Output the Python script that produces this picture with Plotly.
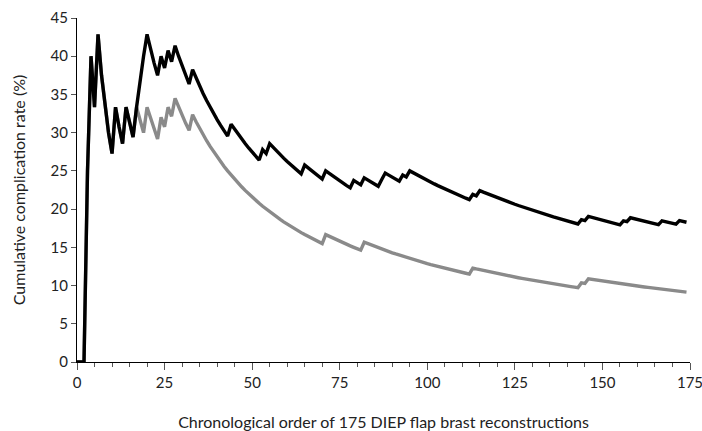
import plotly.graph_objects as go

# Case numbers (1-based, chronological) at which a complication occurred
total_complication_cases = [4, 5, 7, 12, 15, 18, 19, 20, 21, 25, 27, 29, 34, 45, 54, 56, 66, 72,
                            80, 83, 88, 89, 94, 96, 114, 116, 145, 147, 157, 159, 168, 173]
major_complication_cases = [4, 5, 7, 12, 15, 18, 21, 25, 27, 29, 34, 72, 83, 114, 145, 147]
n_cases = 175

x_tick_values = [0, 25, 50, 75, 100, 125, 150, 175]
y_tick_values = [0, 5, 10, 15, 20, 25, 30, 35, 40, 45]


def cumulative_rate(event_cases, n):
    events = set(event_cases)
    xs, ys, count = [], [], 0
    for case in range(1, n + 1):
        if case in events:
            count += 1
        xs.append(case - 1)
        ys.append(100.0 * count / case)
    return xs, ys


xg, yg = cumulative_rate(major_complication_cases, n_cases)
xb, yb = cumulative_rate(total_complication_cases, n_cases)

fig = go.Figure()
fig.add_trace(go.Scatter(x=xg, y=yg, mode="lines",
                         line=dict(color="#8a8a8a", width=3.4), showlegend=False))
fig.add_trace(go.Scatter(x=xb, y=yb, mode="lines",
                         line=dict(color="#000000", width=3.4), showlegend=False))

font_family = "Lato, 'Open Sans', sans-serif"
fig.update_layout(
    width=702, height=431,
    margin=dict(l=77, r=12, t=18, b=69),
    plot_bgcolor="white", paper_bgcolor="white",
    font=dict(family=font_family, size=15, color="#222222"),
    showlegend=False,
)
fig.update_xaxes(
    range=[0, 175], tickvals=x_tick_values, ticktext=[str(v) for v in x_tick_values],
    showgrid=False, zeroline=False, ticklabeloverflow="allow", automargin=False,
    showline=True, linecolor="#000000", linewidth=1,
    ticks="outside", ticklen=7, tickwidth=1, tickcolor="#555555",
    minor=dict(dtick=5, tick0=0, ticks="outside", ticklen=4, tickcolor="#555555", showgrid=False),
    tickfont=dict(size=15, color="#222222"),
    title=dict(text="Chronological order of 175 DIEP flap brast reconstructions",
               font=dict(size=16, color="#222222"), standoff=26),
)
fig.update_yaxes(
    range=[0, 45], tickvals=y_tick_values, ticktext=[str(v) for v in y_tick_values],
    showgrid=False, zeroline=False, automargin=False,
    showline=True, linecolor="#000000", linewidth=1,
    ticks="outside", ticklen=5, tickwidth=1, tickcolor="#555555",
    tickfont=dict(size=15, color="#222222"),
    title=dict(text="Cumulative complication rate (%)",
               font=dict(size=16, color="#222222"), standoff=20),
)

fig.write_html("out.html")
